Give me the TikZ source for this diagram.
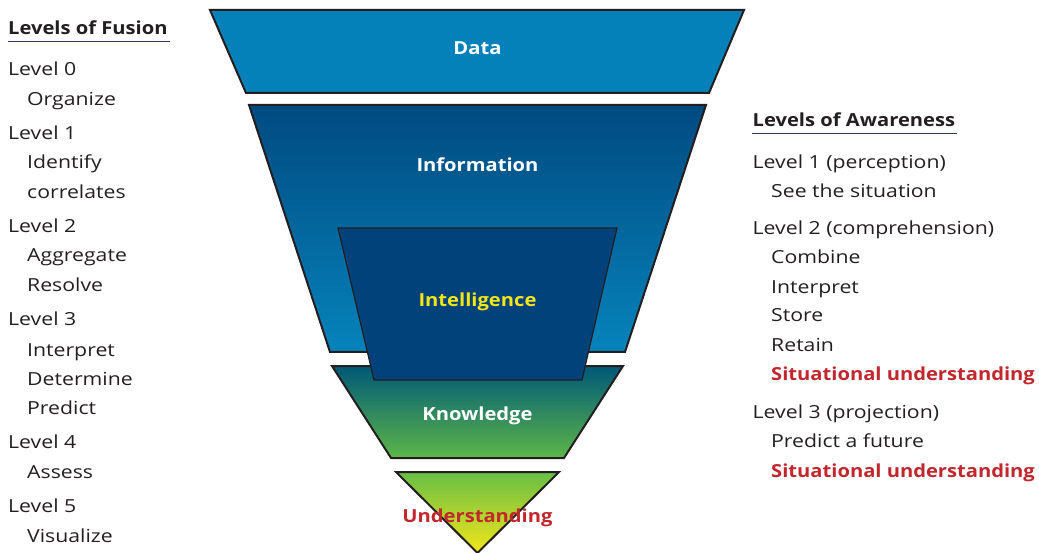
\documentclass[tikz,border=0pt]{standalone}
\usepackage{fontspec}
\setmainfont{Open Sans}[FakeStretch=1.18, BoldFeatures={FakeStretch=1.12}]
\definecolor{txt}{HTML}{231F20}
\definecolor{datablue}{HTML}{0581B9}
\definecolor{infotop}{HTML}{004A80}
\definecolor{infobot}{HTML}{0683BB}
\definecolor{intel}{HTML}{01427A}
\definecolor{knowtop}{HTML}{005878}
\definecolor{knowbot}{HTML}{5DB648}
\definecolor{undtop}{HTML}{68BE45}
\definecolor{undbot}{HTML}{F2E71B}
\definecolor{redlab}{HTML}{C1272D}
\definecolor{yel}{HTML}{F5E617}
\definecolor{rulec}{HTML}{2B3E57}
\begin{document}
\begin{tikzpicture}[x=1pt,y=-1pt,
  lt/.style={anchor=base west, inner sep=0pt, text=txt, font=\fontsize{18}{20}\selectfont},
  hd/.style={lt, font=\fontsize{18}{20}\selectfont\bfseries},
  rd/.style={lt, text=redlab, font=\fontsize{18}{20}\selectfont\bfseries},
  lab/.style={anchor=base, inner sep=0pt, font=\fontsize{18}{20}\selectfont\bfseries},
  outl/.style={draw=txt, line width=2pt, line join=miter},
  underl/.style={draw=rulec, line width=1.3pt}]
\useasboundingbox (0,0) rectangle (1039,553);
% funnel
\path[outl, fill=datablue] (210,10) -- (744,10) -- (709,93) -- (246,93) -- cycle;
\path[outl, top color=infotop, bottom color=infobot] (249,105) -- (706,105) -- (625,352) -- (330,352) -- cycle;
\path[outl, top color=knowtop, bottom color=knowbot] (332,366) -- (623,366) -- (564,458) -- (391,458) -- cycle;
\path[draw=txt, line width=1.2pt, fill=intel] (338,228) -- (617,228) -- (582,380) -- (374,380) -- cycle;
\path[outl, top color=undtop, bottom color=undbot] (396,472) -- (559,472) -- (477.5,553) -- cycle;
\node[lab, text=white] (data) at (477.5,55) {Data};
\node[lab, text=white] (info) at (477.5,172) {Information};
\node[lab, text=yel] (intl) at (477.5,307) {Intelligence};
\node[lab, text=white] (know) at (477.5,420) {Knowledge};
\node[lab, text=redlab] (und) at (477.5,522) {Understanding};
% left column
\node[hd] (lf) at (8,35) {Levels of Fusion};
\draw[underl] (7.5,41.7) -- (170,41.7);
\node[lt] (l0) at (8,76) {Level 0};
\node[lt] (l0a) at (27,105.5) {Organize};
\node[lt] (l1) at (8,139.5) {Level 1};
\node[lt] (l1a) at (27,169) {Identify};
\node[lt] (l1b) at (27,198.5) {correlates};
\node[lt] (l2) at (8,233) {Level 2};
\node[lt] (l2a) at (27,262) {Aggregate};
\node[lt] (l2b) at (27,292) {Resolve};
\node[lt] (l3) at (8,326) {Level 3};
\node[lt] (l3a) at (27,356) {Interpret};
\node[lt] (l3b) at (27,385) {Determine};
\node[lt] (l3c) at (27,414) {Predict};
\node[lt] (l4) at (8,448.5) {Level 4};
\node[lt] (l4a) at (27,478) {Assess};
\node[lt] (l5) at (8,512.5) {Level 5};
\node[lt] (l5a) at (27,542) {Visualize};
% right column
\node[hd] (la) at (752.5,126.7) {Levels of Awareness};
\draw[underl] (752,133.3) -- (957,133.3);
\node[lt] (r1) at (752.5,168.3) {Level 1 (perception)};
\node[lt] (r1a) at (771,197.3) {See the situation};
\node[lt] (r2) at (752.5,235) {Level 2 (comprehension)};
\node[lt] (r2a) at (771,264) {Combine};
\node[lt] (r2b) at (771,293.3) {Interpret};
\node[lt] (r2c) at (771,321.7) {Store};
\node[lt] (r2d) at (771,351.7) {Retain};
\node[rd] (r2e) at (771,380.7) {Situational understanding};
\node[lt] (r3) at (752.5,418.3) {Level 3 (projection)};
\node[lt] (r3a) at (771,447.7) {Predict a future};
\node[rd] (r3b) at (771,477) {Situational understanding};
\end{tikzpicture}
\end{document}
